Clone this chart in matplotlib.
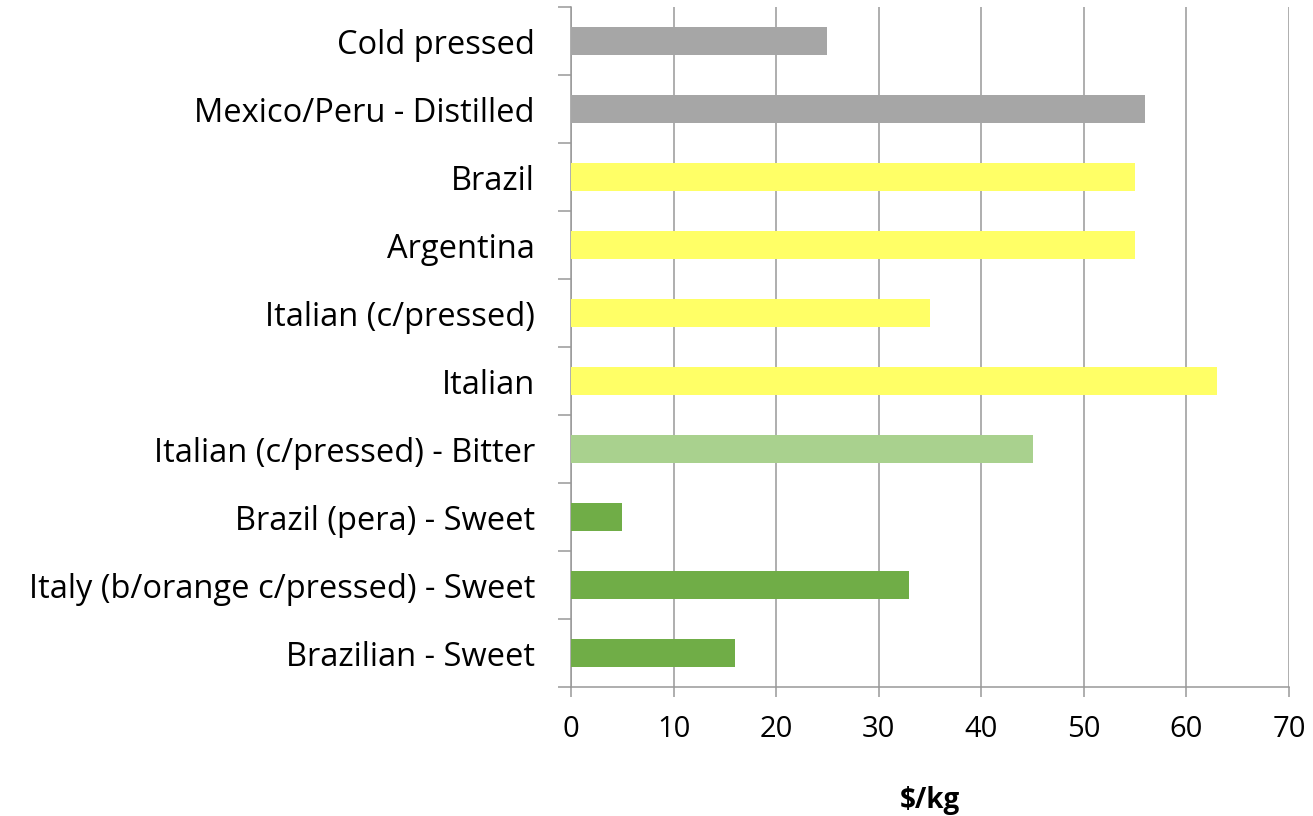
import matplotlib.pyplot as plt
import numpy as np
from matplotlib.ticker import FixedLocator

plt.rcParams['font.family'] = ['Open Sans', 'DejaVu Sans']

# bottom to top
categories = ['Brazilian - Sweet', 'Italy (b/orange c/pressed) - Sweet', 'Brazil (pera) - Sweet',
              'Italian (c/pressed) - Bitter', 'Italian', 'Italian (c/pressed)', 'Argentina',
              'Brazil', 'Mexico/Peru - Distilled', 'Cold pressed']
prices = [16, 33, 5, 45, 63, 35, 55, 55, 56, 25]
colors = ['#70AD47', '#70AD47', '#70AD47', '#A9D18E', '#FFFF66', '#FFFF66', '#FFFF66',
          '#FFFF66', '#A6A6A6', '#A6A6A6']

fig = plt.figure(figsize=(13.13, 8.16), dpi=100)
ax = fig.add_axes([0.4349, 0.158, 0.9817 - 0.4349, 0.9914 - 0.158])

y = np.arange(len(categories))
ax.barh(y, prices, height=0.4, color=colors, zorder=3)

ax.set_xlim(0, 70)
ax.set_ylim(-0.5, len(categories) - 0.5)
ax.set_xticks(range(0, 71, 10))
ax.set_yticks(y)
ax.set_yticklabels(categories)
ax.yaxis.set_minor_locator(FixedLocator(np.arange(-0.5, len(categories), 1)))

ax.grid(axis='x', color='#989898', linewidth=1.1, zorder=0)
for s in ['top', 'right']:
    ax.spines[s].set_visible(False)
for s in ['left', 'bottom']:
    ax.spines[s].set_color('#989898')
    ax.spines[s].set_linewidth(1.1)

ax.tick_params(axis='y', which='major', length=0, pad=26, labelsize=23.5)
ax.tick_params(axis='y', which='minor', length=9.5, width=1.1, color='#989898')
ax.tick_params(axis='x', which='major', length=7, width=1.1, color='#989898', pad=13, labelsize=21)

ax.set_xlabel('$/kg', fontsize=20, fontweight='bold', labelpad=30)

fig.savefig('out.png', dpi=100)
